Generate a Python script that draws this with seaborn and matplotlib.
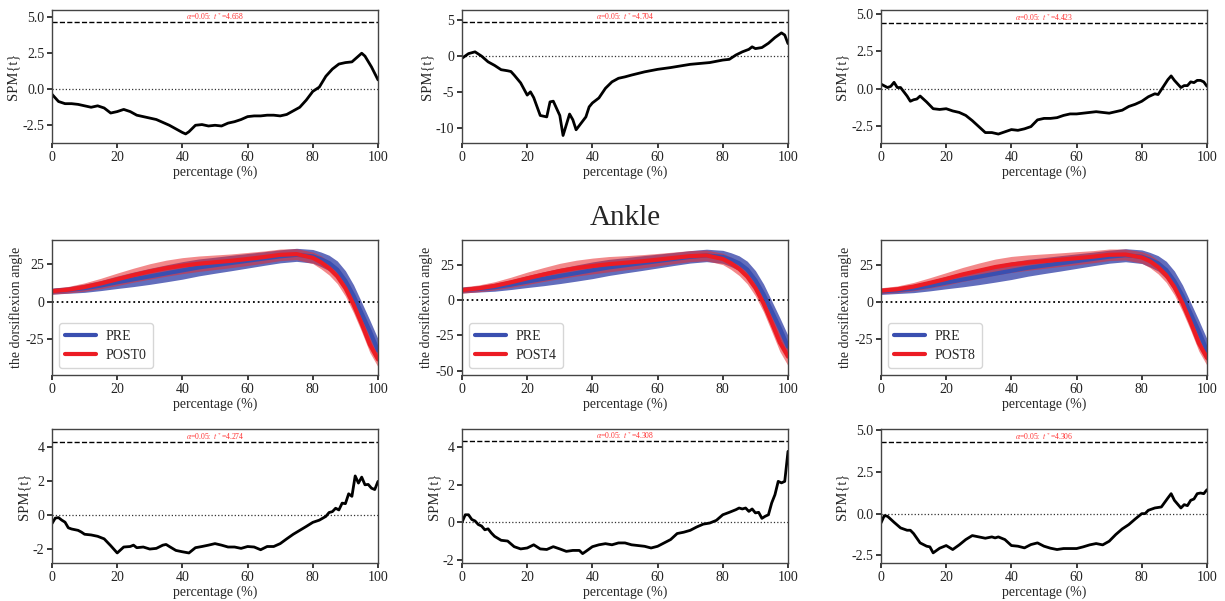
import numpy as np
import pandas as pd
import matplotlib
matplotlib.use("Agg")
import matplotlib.pyplot as plt
from matplotlib.ticker import MultipleLocator
import seaborn as sns

# ---------------- data ----------------
# SPM{t} curves (top row: PRE vs POST0/POST4/POST8 ; bottom row: second comparison)
spm_x_tl = [0, 2, 4, 6, 8, 10, 12, 14, 16, 18, 20, 22, 24, 26, 28, 30, 32, 34, 36, 38, 40, 41, 42, 44, 46, 48, 50,
            52, 54, 56, 58, 60, 62, 64, 66, 68, 70, 72, 74, 76, 78, 80, 82, 84, 86, 88, 90, 92, 94, 95, 96, 98, 100]
spm_t_tl = [-0.35, -0.85, -1.0, -1.0, -1.05, -1.15, -1.25, -1.15, -1.3, -1.65, -1.55, -1.4, -1.55, -1.8, -1.9, -2.0,
            -2.1, -2.3, -2.5, -2.75, -3.0, -3.1, -2.95, -2.5, -2.45, -2.55, -2.5, -2.55, -2.35, -2.25, -2.1, -1.9,
            -1.85, -1.85, -1.8, -1.8, -1.85, -1.75, -1.5, -1.25, -0.75, -0.15, 0.15, 0.9, 1.4, 1.75, 1.85, 1.9, 2.3,
            2.5, 2.3, 1.55, 0.65]

spm_x_tm = [0, 2, 4, 6, 8, 10, 12, 14, 15, 16, 18, 20, 21, 22, 24, 26, 27, 28, 30, 31, 33, 34, 35, 36, 38, 39, 40,
            42, 44, 46, 48, 50, 52, 56, 60, 64, 70, 76, 80, 82, 84, 86, 88, 89, 90, 92, 94, 96, 98, 99, 100]
spm_t_tm = [-0.3, 0.35, 0.6, 0.0, -0.8, -1.3, -1.9, -2.05, -2.15, -2.65, -3.75, -5.45, -5.0, -5.8, -8.3, -8.5, -6.4,
            -6.3, -8.3, -11.1, -8.1, -8.9, -10.3, -9.7, -8.5, -7.1, -6.55, -5.85, -4.5, -3.6, -3.1, -2.9, -2.65, -2.2,
            -1.85, -1.6, -1.15, -0.9, -0.55, -0.45, 0.15, 0.6, 0.95, 1.3, 1.05, 1.2, 1.8, 2.6, 3.25, 2.95, 1.75]

spm_x_tr = [0, 2, 3, 4, 5, 6, 8, 9, 10, 11, 12, 14, 16, 18, 20, 22, 24, 26, 28, 30, 32, 34, 36, 38, 40, 42, 44, 46,
            48, 50, 52, 54, 56, 58, 60, 64, 66, 70, 72, 74, 76, 78, 80, 82, 84, 85, 86, 88, 89, 90, 92, 93, 94, 95,
            96, 97, 98, 99, 100]
spm_t_tr = [0.3, 0.07, 0.15, 0.42, 0.07, 0.07, -0.5, -0.85, -0.75, -0.7, -0.5, -0.9, -1.35, -1.4, -1.35, -1.5, -1.6,
            -1.8, -2.15, -2.55, -2.95, -2.95, -3.05, -2.9, -2.75, -2.8, -2.7, -2.55, -2.1, -2.0, -2.0, -1.95, -1.8,
            -1.7, -1.7, -1.6, -1.55, -1.65, -1.55, -1.45, -1.2, -1.05, -0.85, -0.55, -0.35, -0.4, -0.07, 0.6, 0.85,
            0.55, 0.07, 0.2, 0.2, 0.45, 0.4, 0.55, 0.55, 0.45, 0.15]

spm_x_bl = [0, 1, 2, 3, 4, 5, 6, 8, 9, 10, 12, 14, 16, 18, 20, 22, 24, 25, 26, 28, 30, 32, 34, 35, 36, 38, 40, 42,
            44, 46, 48, 50, 52, 54, 56, 58, 60, 62, 64, 66, 68, 70, 72, 74, 76, 78, 80, 82, 84, 85, 86, 87, 88, 89,
            90, 91, 92, 93, 94, 95, 96, 97, 98, 99, 100]
spm_t_bl = [-0.5, -0.18, -0.15, -0.3, -0.42, -0.75, -0.82, -0.9, -1.0, -1.13, -1.17, -1.25, -1.4, -1.8, -2.23, -1.88,
            -1.85, -1.77, -1.92, -1.88, -2.0, -1.96, -1.77, -1.73, -1.85, -2.08, -2.16, -2.23, -1.92, -1.85, -1.77,
            -1.68, -1.77, -1.88, -1.88, -1.96, -1.85, -1.88, -2.04, -1.85, -1.85, -1.68, -1.4, -1.13, -0.9, -0.67,
            -0.43, -0.3, -0.08, 0.15, 0.2, 0.4, 0.3, 0.7, 0.67, 1.25, 1.1, 2.3, 1.88, 2.23, 1.78, 1.8, 1.58, 1.5, 1.98]

spm_x_bm = [0, 1, 2, 3, 4, 5, 6, 7, 8, 9, 10, 12, 14, 16, 18, 20, 22, 24, 26, 28, 30, 32, 34, 36, 37, 38, 40, 42,
            44, 46, 48, 50, 52, 56, 58, 60, 62, 64, 66, 68, 70, 72, 74, 76, 78, 80, 82, 84, 85, 86, 87, 88, 89, 90,
            91, 92, 93, 94, 95, 96, 97, 98, 99, 100]
spm_t_bm = [0.0, 0.4, 0.4, 0.15, 0.07, -0.12, -0.2, -0.4, -0.35, -0.57, -0.75, -0.96, -1.0, -1.3, -1.42, -1.37, -1.2,
            -1.42, -1.45, -1.3, -1.42, -1.55, -1.5, -1.5, -1.67, -1.55, -1.3, -1.2, -1.14, -1.2, -1.1, -1.1, -1.2,
            -1.28, -1.37, -1.28, -1.1, -0.92, -0.6, -0.53, -0.43, -0.25, -0.1, -0.04, 0.1, 0.4, 0.53, 0.67, 0.76,
            0.71, 0.76, 0.58, 0.71, 0.5, 0.53, 0.21, 0.32, 0.4, 1.03, 1.47, 2.18, 2.1, 2.18, 3.78]

spm_x_br = [0, 1, 2, 4, 6, 8, 9, 10, 12, 14, 15, 16, 18, 20, 22, 24, 26, 28, 30, 32, 34, 35, 36, 38, 40, 42, 44, 46,
            48, 50, 52, 54, 56, 58, 60, 62, 64, 66, 68, 70, 72, 74, 76, 78, 80, 81, 82, 84, 86, 88, 89, 90, 92, 93,
            94, 95, 96, 97, 98, 99, 100]
spm_t_br = [-0.56, -0.12, -0.16, -0.52, -0.86, -1.0, -1.0, -1.2, -1.76, -1.96, -2.0, -2.36, -2.08, -1.92, -2.16,
            -1.88, -1.56, -1.32, -1.4, -1.48, -1.4, -1.46, -1.4, -1.56, -1.92, -1.96, -2.06, -1.86, -1.76, -1.96,
            -2.08, -2.16, -2.1, -2.1, -2.1, -2.0, -1.88, -1.8, -1.88, -1.66, -1.26, -0.92, -0.66, -0.32, 0.0, 0.0,
            0.2, 0.34, 0.4, 0.94, 1.2, 0.8, 0.34, 0.54, 0.48, 0.8, 0.88, 1.2, 1.24, 1.2, 1.44]

thresholds = [4.658, 4.704, 4.423, 4.274, 4.308, 4.306]

# Ankle dorsiflexion angle: mean and SD per group
angle_x = [0, 5, 10, 15, 20, 25, 30, 35, 40, 45, 50, 55, 60, 65, 70, 75, 80, 82.5, 85, 87.5, 90, 92.5, 95, 97.5, 100]
pre_mean = [7.0, 7.8, 9.0, 10.8, 13.0, 15.0, 17.0, 19.0, 21.0, 23.0, 24.5, 26.0, 27.5, 29.0, 30.5, 31.5, 30.5, 28.5,
            26.0, 21.5, 14.0, 4.0, -8.0, -20.0, -33.0]
pre_sd = [2.0, 2.2, 2.8, 3.4, 4.2, 4.9, 5.4, 5.7, 5.9, 5.7, 5.4, 5.2, 4.9, 4.6, 4.4, 4.4, 4.6, 4.9, 5.2, 5.9, 6.8,
          7.3, 7.4, 7.4, 7.8]
post0_mean = [7.0, 8.0, 9.8, 12.2, 15.0, 17.8, 20.3, 22.5, 24.2, 25.5, 26.5, 27.5, 28.7, 30.0, 31.5, 32.0, 29.5, 26.5,
              22.5, 17.0, 9.0, -2.0, -15.0, -29.0, -39.0]
post0_sd = [2.0, 2.2, 2.8, 3.5, 4.2, 4.7, 5.2, 5.4, 5.4, 5.2, 4.9, 4.6, 4.4, 4.1, 3.9, 3.7, 3.9, 4.4, 4.6, 4.9, 5.4,
            5.6, 5.4, 5.4, 5.0]
post4_mean = [7.0, 8.2, 10.0, 12.5, 15.3, 18.0, 20.5, 22.5, 24.0, 25.3, 26.3, 27.3, 28.5, 29.8, 31.0, 31.5, 29.0, 26.0,
              22.0, 16.5, 8.5, -2.5, -16.0, -30.0, -40.0]
post4_sd = [2.2, 2.4, 2.9, 3.6, 4.4, 4.9, 5.4, 5.6, 5.6, 5.4, 5.0, 4.7, 4.4, 4.1, 3.9, 3.8, 4.0, 4.4, 4.7, 5.1, 5.6,
            5.9, 6.2, 6.4, 6.4]
post8_mean = [7.5, 8.5, 10.3, 12.8, 15.5, 18.5, 21.0, 23.5, 25.3, 26.5, 27.5, 28.5, 29.5, 30.5, 31.8, 32.0, 30.0, 27.5,
              23.5, 18.0, 10.0, -1.0, -14.0, -28.0, -38.0]
post8_sd = [2.0, 2.2, 2.8, 3.5, 4.2, 4.7, 5.2, 5.4, 5.4, 5.2, 4.9, 4.6, 4.4, 4.1, 3.9, 3.7, 3.9, 4.4, 4.6, 4.9, 5.4,
            5.6, 5.4, 5.4, 5.0]
post_labels = ["POST0", "POST4", "POST8"]

# ---------------- style ----------------
sns.set_theme(style="ticks")
plt.rcParams["font.family"] = ["Liberation Serif", "DejaVu Serif"]
plt.rcParams["mathtext.fontset"] = "stix"
plt.rcParams["axes.unicode_minus"] = False
plt.rcParams["axes.edgecolor"] = "#444444"
plt.rcParams["axes.linewidth"] = 1.0
plt.rcParams["xtick.color"] = "#222222"
plt.rcParams["ytick.color"] = "#222222"
plt.rcParams["xtick.major.size"] = 3.5
plt.rcParams["ytick.major.size"] = 3.5

W, H = 1225, 601
fig = plt.figure(figsize=(W / 100, H / 100), dpi=100)

col_left = [52, 462, 881]
col_width = 326
row_top = [10, 240, 429]
row_height = [133, 135, 134]


def make_ax(r, c):
    l = col_left[c]
    t = row_top[r]
    h = row_height[r]
    return fig.add_axes([l / W, 1 - (t + h) / H, col_width / W, h / H])


TFS = 10
BLUE = "#3a4fb0"
RED = "#ec1c24"

spm_sets = [
    (0, 0, spm_x_tl, spm_t_tl, thresholds[0], (-3.73, 5.5), 2.5),
    (0, 1, spm_x_tm, spm_t_tm, thresholds[1], (-12.15, 6.45), 5),
    (0, 2, spm_x_tr, spm_t_tr, thresholds[2], (-3.65, 5.27), 2.5),
    (2, 0, spm_x_bl, spm_t_bl, thresholds[3], (-2.82, 5.06), 2),
    (2, 1, spm_x_bm, spm_t_bm, thresholds[4], (-2.17, 4.97), 2),
    (2, 2, spm_x_br, spm_t_br, thresholds[5], (-2.97, 5.09), 2.5),
]

for r, c, xs, ts, thr, ylim, step in spm_sets:
    ax = make_ax(r, c)
    ax.axhline(0, color="#333333", ls=":", lw=0.9)
    ax.axhline(thr, color="black", ls="--", lw=1.0)
    sns.lineplot(x=xs, y=ts, ax=ax, color="black", lw=2.0)
    ax.text(50, thr, r"$\alpha$=0.05:  $t^*$=%.3f" % thr, color="#ff3030",
            fontsize=5.5, ha="center", va="bottom")
    ax.set_xlim(0, 100)
    ax.set_ylim(*ylim)
    ax.xaxis.set_major_locator(MultipleLocator(20))
    ax.yaxis.set_major_locator(MultipleLocator(step))
    if step == 2.5:
        ax.yaxis.set_major_formatter(matplotlib.ticker.FormatStrFormatter("%.1f"))
    ax.set_xlabel("percentage (%)", fontsize=TFS, labelpad=1)
    ax.set_ylabel("SPM{t}", fontsize=TFS + 0.5, labelpad=2)
    ax.tick_params(labelsize=TFS, pad=2)

posts = [(post0_mean, post0_sd), (post4_mean, post4_sd), (post8_mean, post8_sd)]
mid_ylims = [(-49.5, 41.5), (-53, 42.4), (-49.5, 41.8)]

for c in range(3):
    ax = make_ax(1, c)
    pm, psd = posts[c]
    px = np.array(angle_x)
    pre_m = np.array(pre_mean)
    pre_s = np.array(pre_sd)
    po_m = np.array(pm)
    po_s = np.array(psd)
    ax.axhline(0, color="black", ls=":", lw=1.3)
    ax.fill_between(px, pre_m - pre_s, pre_m + pre_s, color="#3b48ab", alpha=0.8, lw=0)
    ax.fill_between(px, po_m - po_s, po_m + po_s, color="#e8282a", alpha=0.55, lw=0)
    sns.lineplot(x=angle_x, y=pre_mean, ax=ax, color=BLUE, lw=3, label="PRE")
    sns.lineplot(x=angle_x, y=pm, ax=ax, color=RED, lw=3, label=post_labels[c])
    ax.set_xlim(0, 100)
    ax.set_ylim(*mid_ylims[c])
    ax.xaxis.set_major_locator(MultipleLocator(20))
    ax.yaxis.set_major_locator(MultipleLocator(25))
    ax.set_xlabel("percentage (%)", fontsize=TFS, labelpad=1)
    ax.set_ylabel("the dorsiflexion angle", fontsize=TFS, labelpad=2)
    ax.tick_params(labelsize=TFS, pad=2)
    leg = ax.legend(loc="lower left", fontsize=10, frameon=True, handlelength=2.2,
                    handletextpad=0.7, borderpad=0.45, labelspacing=0.45, fancybox=True)
    for ln in leg.get_lines():
        ln.set_linewidth(3)
    leg.get_frame().set_edgecolor("#cccccc")
    if c == 1:
        fig.text((462 + col_width / 2) / W, 1 - 218 / H, "Ankle", fontsize=21,
                 ha="center", va="center")

fig.savefig("out.png", dpi=100)
